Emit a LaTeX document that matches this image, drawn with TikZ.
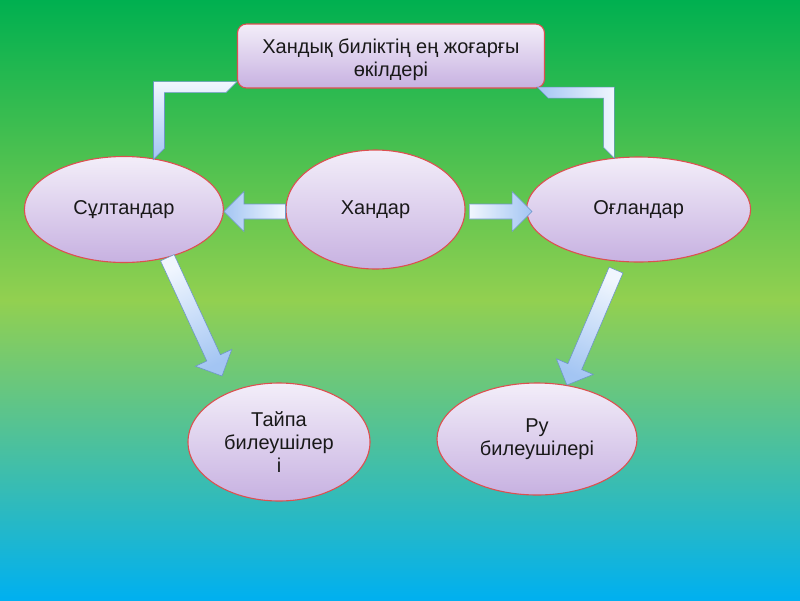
\documentclass[tikz,border=0pt]{standalone}
\usepackage{fontspec}
\setmainfont{Liberation Sans}
\usepackage{tikz}
\usetikzlibrary{shapes.geometric,positioning,calc}

\definecolor{bgtop}{HTML}{00B050}
\definecolor{bgmid}{HTML}{92D050}
\definecolor{bgbot}{HTML}{00B0F0}
\definecolor{ovaltop}{HTML}{F3EEF9}
\definecolor{ovalbot}{HTML}{C7B1E1}
\definecolor{ovalrim}{HTML}{DC5050}
\definecolor{arrowlight}{HTML}{F0F6FE}
\definecolor{arrowblue}{HTML}{A3C5F3}
\definecolor{arrowrim}{HTML}{6E96C9}

\tikzset{
  % block arrow built between two points
  blockarrow/.style={
    draw=arrowrim, line width=0.6pt, line join=miter,
    top color=arrowlight, bottom color=arrowblue, shading angle=#1,
    to path={
      let \p1=(\tikztostart), \p2=(\tikztotarget),
          \n1={atan2(\y2-\y1,\x2-\x1)}, \n2={veclen(\x2-\x1,\y2-\y1)}
      in {[shift={(\p1)}, rotate=\n1]
        (0pt,7.5pt) -- (\n2-20pt,7.5pt) -- (\n2-20pt,20pt) -- (\n2,0pt)
        -- (\n2-20pt,-20pt) -- (\n2-20pt,-7.5pt) -- (0pt,-7.5pt) -- cycle}
    }
  },
  % bent band, first horizontal then vertical
  elbowband/.style={
    draw=arrowrim, line width=0.6pt, line join=miter,
    to path={
      let \p1=(\tikztostart), \p2=(\tikztotarget),
          \n1={sign(\x2-\x1)}, \n2={sign(\y2-\y1)}
      in ({\x1},{\y1-\n2*5.5pt}) -- ({\x2+\n1*5.5pt},{\y1-\n2*5.5pt})
      -- ({\x2+\n1*5.5pt},{\y2}) -- ({\x2-\n1*5.5pt},{\y2-\n2*11pt})
      -- ({\x2-\n1*5.5pt},{\y1+\n2*5.5pt}) -- ({\x1+\n1*11pt},{\y1+\n2*5.5pt}) -- cycle
    }
  }
}

\begin{document}
\begin{tikzpicture}[
    x=1pt, y=-1pt,
    oval/.style={ellipse, draw=ovalrim, line width=1.1pt, top color=ovaltop,
      bottom color=ovalbot, inner sep=0pt, align=center,
      font=\fontsize{20}{23}\selectfont, text=black!90},
    headbox/.style={rectangle, rounded corners=9pt, draw=ovalrim, line width=1.1pt,
      top color=ovaltop, bottom color=ovalbot, inner sep=0pt, align=center,
      font=\fontsize{20}{23}\selectfont, text=black!90}
]
\useasboundingbox (0,0) rectangle (800,600);
\shade[top color=bgtop, bottom color=bgbot, middle color=bgmid] (0,0) rectangle (800,600);

\node[headbox, minimum width=307pt, minimum height=64pt] (Top) at (391,56)
  {\rule{0pt}{22pt}Хандық биліктің ең жоғарғы\\өкілдері};
\node[oval, minimum width=179pt, minimum height=119pt] (Khan) at (375.5,209.5) {Хандар};
\node[oval, minimum width=199pt, minimum height=106pt] (Sultan) [left=61.5pt of Khan] {Сұлтандар};
\node[oval, minimum width=224pt, minimum height=105pt] (Oglan) [right=60.5pt of Khan] {Оғландар};
\node[oval, minimum width=182pt, minimum height=118pt] (Taipa) at (279,442) {Тайпа\\билеушілер\\і};
\node[oval, minimum width=200pt, minimum height=112pt] (Ru) at (537,439) {Ру\\билеушілері};

\coordinate (Ttip) at (222,376);
\coordinate (Rtail) at ($(Oglan.-110)!9pt!(Ru.61)$);

\draw[elbowband, top color=arrowlight, bottom color=arrowblue] ([yshift=1.5pt]Top.south west) to (Sultan.55);
\draw[elbowband, left color=arrowblue, right color=arrowlight] ([shift={(-8pt,-4pt)}]Top.south east) to (Oglan.120);

\draw[blockarrow=270] ([yshift=-2pt]Khan.west) to ([yshift=-2pt]Sultan.east);
\draw[blockarrow=90] ([shift={(4pt,-2pt)}]Khan.east) to ([shift={(6pt,-2pt)}]Oglan.west);
\draw[blockarrow=24.7] (Sultan.-48) to (Ttip);
\draw[blockarrow=-23] (Rtail) to (Ru.61);
\end{tikzpicture}
\end{document}
